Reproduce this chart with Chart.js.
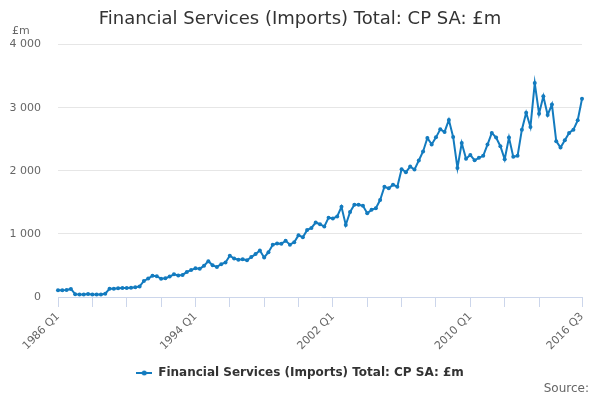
<!DOCTYPE html>
<html><head><meta charset="utf-8">
<script src="https://cdn.jsdelivr.net/npm/chart.js@4"></script>
<style>
html,body{margin:0;padding:0;background:#fff}
#wrap{position:relative;width:600px;height:400px;font-family:'DejaVu Sans',Verdana,sans-serif}
#unit{position:absolute;left:12px;top:24px;font-size:11px;color:#666}
#src{position:absolute;right:11px;top:381px;font-size:12px;color:#666}
</style>
</head><body>
<div id="wrap"><canvas id="c" width="600" height="400"></canvas>
<div id="unit">£m</div><div id="src">Source:</div></div>
<script>
const quarters = [];
for (let y = 1986; y <= 2016; y++) for (let q = 1; q <= 4; q++) { if (y === 2016 && q > 3) break; quarters.push(y + ' Q' + q); }

const values = [
  105,105,112,128, 45,38,38,46, 38,38,40,52, 132,132,138,142,
  144,146,153,168, 255,292,338,330, 288,297,324,360, 342,350,398,427,
  455,446,497,567, 502,476,520,548, 655,610,592,598, 582,632,680,736,
  626,710,827,848, 843,890,830,868, 980,946,1060,1095, 1180,1153,1116,1257,
  1244,1276,1430,1142, 1349,1461,1461,1445, 1328,1381,1408,1536, 1748,1722,1780,1748,
  2025,1978,2067,2019, 2163,2306,2520,2418, 2530,2657,2616,2807, 2536,2046,2440,2192,
  2250,2167,2205,2237, 2415,2600,2526,2389, 2183,2526,2221,2237, 2652,2920,2695,3390,
  2905,3180,2885,3050, 2470,2368,2484,2600, 2652,2800,3140
];

const labeledTicks = ['1986 Q1','1994 Q1','2002 Q1','2010 Q1','2016 Q3'];
const markedTicks = ['1986 Q1','1988 Q1','1990 Q1','1992 Q1','1994 Q1','1996 Q1','1998 Q1','2000 Q1',
  '2002 Q1','2004 Q1','2006 Q1','2008 Q1','2010 Q1','2012 Q1','2014 Q1','2016 Q3'];
const yTicks = [0, 1000, 2000, 3000, 4000];

const seriesName = 'Financial Services (Imports) Total: CP SA: £m';
const titleText = 'Financial Services (Imports) Total: CP SA: £m';
const FONT = "'DejaVu Sans', Verdana, sans-serif";
const lineColor = '#137bbf';
const PAD_BOTTOM = 11;

const mk = document.createElement('canvas'); mk.width = 16; mk.height = 8;
const g = mk.getContext('2d');
g.strokeStyle = lineColor; g.lineWidth = 2; g.beginPath(); g.moveTo(0, 4); g.lineTo(16, 4); g.stroke();
g.fillStyle = lineColor; g.beginPath(); g.arc(8, 4, 2.5, 0, Math.PI * 2); g.fill();

const fmt = v => String(v).replace(/\B(?=(\d{3})+(?!\d))/g, ' ');

new Chart(document.getElementById('c'), {
  type: 'line',
  data: {
    labels: quarters,
    datasets: [{
      label: seriesName,
      data: values,
      borderColor: lineColor,
      backgroundColor: lineColor,
      borderWidth: 2,
      pointRadius: 2,
      pointBorderWidth: 0,
      pointBackgroundColor: lineColor,
      tension: 0,
      fill: false
    }]
  },
  options: {
    responsive: false,
    animation: false,
    devicePixelRatio: 1,
    layout: { padding: { left: 0, right: 0, top: 0, bottom: PAD_BOTTOM } },
    plugins: {
      title: {
        display: true, text: titleText, color: '#333',
        font: { family: FONT, size: 18, weight: 'normal' },
        padding: { top: 9, bottom: 14 }
      },
      legend: {
        position: 'bottom',
        labels: {
          color: '#333', font: { family: FONT, size: 12, weight: 'bold' },
          usePointStyle: true, pointStyle: mk, pointStyleWidth: 16, padding: 10
        }
      },
      tooltip: { enabled: false }
    },
    scales: {
      x: {
        type: 'category',
        offset: false,
        grid: {
          drawOnChartArea: false, drawTicks: true, tickLength: 10, tickWidth: 1,
          color: '#ccd6eb',
          tickColor: ctx => markedTicks.includes(quarters[ctx.index]) ? '#ccd6eb' : 'rgba(0,0,0,0)'
        },
        border: { display: true, color: '#ccd6eb', width: 1 },
        ticks: {
          autoSkip: false, maxRotation: 45, minRotation: 45, padding: 3,
          color: '#666', font: { family: FONT, size: 11 },
          callback: (v, i) => labeledTicks.includes(quarters[i]) ? quarters[i] : ''
        },
        afterFit: s => { s.height = s.chart.height - 297 - s.chart.legend.height - PAD_BOTTOM; }
      },
      y: {
        min: 0, max: 4000,
        afterBuildTicks: s => { s.ticks = yTicks.map(v => ({ value: v })); },
        grid: { color: '#e6e6e6', drawTicks: false, lineWidth: 1 },
        border: { display: false },
        ticks: { color: '#666', font: { family: FONT, size: 11 }, padding: 17, callback: v => fmt(v) },
        afterFit: s => { s.width = 58; }
      },
      yRight: {
        position: 'right', min: 0, max: 4000,
        grid: { display: false, drawTicks: false },
        border: { display: false },
        ticks: { display: false },
        afterFit: s => { s.width = 18; }
      }
    }
  }
});
</script>
</body></html>
